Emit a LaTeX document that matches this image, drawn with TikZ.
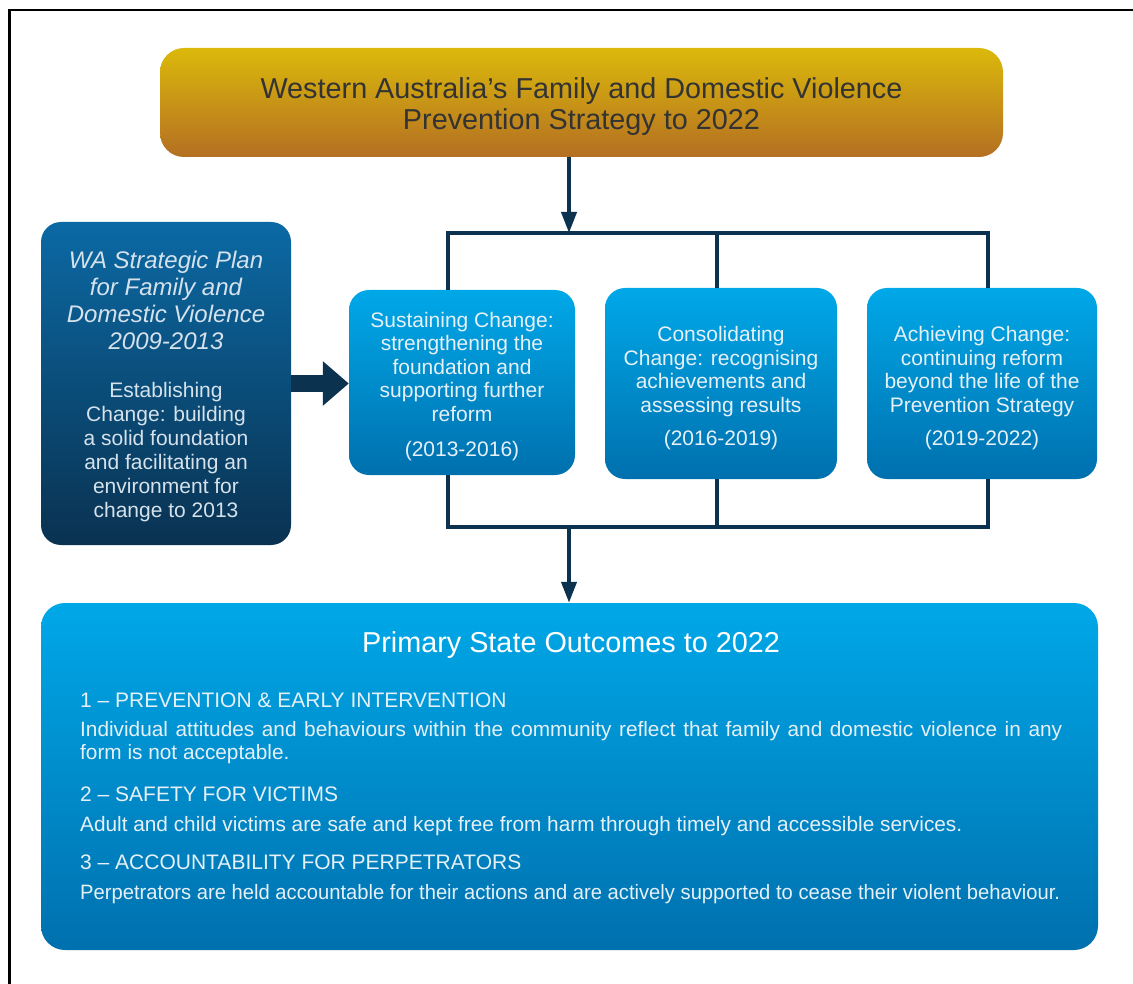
\documentclass[tikz,border=0pt]{standalone}
\usepackage{fontspec}
\setmainfont{Liberation Sans}
\usetikzlibrary{arrows.meta}
\definecolor{goldtop}{HTML}{DBB90B}
\definecolor{goldbot}{HTML}{B46F22}
\definecolor{bluetop}{HTML}{00A8E8}
\definecolor{bluebot}{HTML}{0070AE}
\definecolor{darktop}{HTML}{0B69A4}
\definecolor{darkbot}{HTML}{0A3251}
\definecolor{navy}{HTML}{0B3350}
\definecolor{titletext}{HTML}{333333}
\definecolor{boxtext}{HTML}{E6F0F7}
\definecolor{lefttext}{HTML}{D5E2EC}
\tikzset{
  goldbox/.style={rounded corners=24pt, top color=goldtop, bottom color=goldbot, draw=none},
  stagebox/.style={rounded corners=20pt, top color=bluetop, bottom color=bluebot, draw=none},
  leftbox/.style={rounded corners=20pt, top color=darktop, bottom color=darkbot, draw=none},
  outbox/.style={rounded corners=24pt, top color=bluetop, bottom color=bluebot, draw=none},
  titletxt/.style={text=titletext, align=center, inner sep=0pt, font=\fontsize{28.8}{31}\selectfont},
  stagetxt/.style={text=boxtext, align=center, inner sep=0pt, font=\fontsize{21}{23.5}\selectfont},
  lefttitletxt/.style={text=lefttext, align=center, inner sep=0pt, font=\itshape\fontsize{24}{27}\selectfont},
  leftbodytxt/.style={text=lefttext, align=center, inner sep=0pt, font=\fontsize{21}{24}\selectfont},
  conn/.style={draw=navy, line width=4pt},
  arr/.style={-{Triangle[width=15pt,length=21pt]}},
  outtext/.style={text=boxtext, inner sep=0pt, anchor=base west, font=\fontsize{20.8}{24}\selectfont},
  outhead/.style={outtext, font=\fontsize{21}{24}\selectfont},
}
\begin{document}
\begin{tikzpicture}[x=1pt,y=-1pt]
\useasboundingbox (0,0) rectangle (1133,984);
\draw[line width=2.5pt, black] (1133,10) -- (9.5,10) -- (9.5,984);

\node[goldbox, minimum width=843pt, minimum height=109pt] (title) at (581.5,102.5) {};
\node[titletxt] (titlet) at (581.5,106.5)
  {Western Australia’s Family and Domestic Violence\\Prevention Strategy to 2022};

\node[leftbox, minimum width=250pt, minimum height=323pt] (left) at (166,383.5) {};
\node[lefttitletxt] (leftt) at (166,300.5) {WA Strategic Plan\\for Family and\\Domestic Violence\\2009-2013};
\node[leftbodytxt] (leftb) at (166,452.5) {Establishing\\Change: building\\a solid foundation\\and facilitating an\\environment for\\change to 2013};

\node[stagebox, minimum width=226pt, minimum height=185pt] (b1) at (462,382.5) {};
\node[stagetxt] (b1t) at (462,386.5)
  {Sustaining Change:\\strengthening the\\foundation and\\supporting further\\reform\\[12pt](2013-2016)};
\node[stagebox, minimum width=232pt, minimum height=191pt] (b2) at (721,383.5) {};
\node[stagetxt] (b2t) at (721,388.5)
  {Consolidating\\Change: recognising\\achievements and\\assessing results\\[10pt](2016-2019)};
\node[stagebox, minimum width=230pt, minimum height=191pt] (b3) at (982,383.5) {};
\node[stagetxt] (b3t) at (982,388.5)
  {Achieving Change:\\continuing reform\\beyond the life of the\\Prevention Strategy\\[10pt](2019-2022)};

\node[outbox, minimum width=1057pt, minimum height=347pt] (out) at (569.5,776.5) {};

\node[text=white, inner sep=0pt, anchor=base, font=\fontsize{28.8}{31}\selectfont] (otitle) at (571,652)
  {Primary State Outcomes to 2022};
\node[outhead] (h1) at (80,707) {1 – PREVENTION \& EARLY INTERVENTION};
\node[outtext] (p1a) at (80,736) {\makebox[982pt][s]{Individual attitudes and behaviours within the community reflect that family and domestic violence in any}};
\node[outtext] (p1b) at (80,759) {form is not acceptable.};
\node[outhead] (h2) at (80,801) {2 – SAFETY FOR VICTIMS};
\node[outtext] (p2) at (80,831) {Adult and child victims are safe and kept free from harm through timely and accessible services.};
\node[outhead] (h3) at (80,869) {3 – ACCOUNTABILITY FOR PERPETRATORS};
\node[outtext] (p3) at (80,899) {\resizebox{980pt}{\height}{Perpetrators are held accountable for their actions and are actively supported to cease their violent behaviour.}};

% bracket coordinates
\coordinate (tj) at (569,233);
\coordinate (tl) at (448,233);
\coordinate (tm) at (717,233);
\coordinate (tr) at (988,233);
\coordinate (bj) at (569,527);
\coordinate (bl) at (448,527);
\coordinate (bm) at (717,527);
\coordinate (br) at (988,527);

\draw[conn, arr] (title.south -| tj) -- (tj);
\draw[conn, line join=miter] (tl |- b1.north) -- (tl) -- (tr) -- (tr |- b3.north);
\draw[conn] (tm) -- (tm |- b2.north);
\draw[conn, line join=miter] (bl |- b1.south) -- (bl) -- (br) -- (br |- b3.south);
\draw[conn] (bm |- b2.south) -- (bm);
\draw[conn, arr] (bj) -- (bj |- out.north);

\draw[draw=navy, line width=16pt, -{Triangle[width=43pt,length=26pt]}] (left.east) -- (left.east -| b1.west);
\end{tikzpicture}
\end{document}
